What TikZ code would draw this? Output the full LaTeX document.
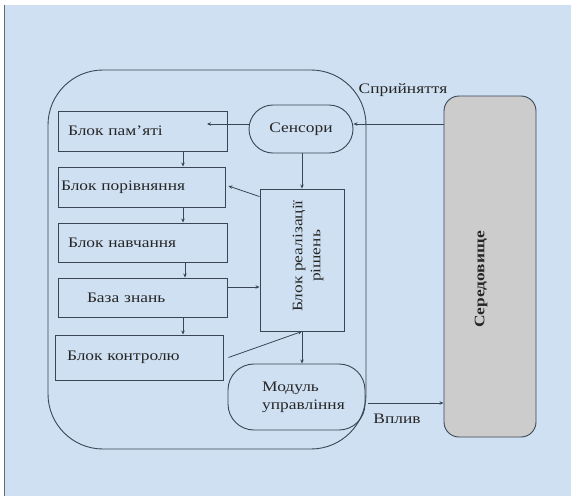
\documentclass[tikz,border=0pt]{standalone}
\usepackage{fontspec}
\setmainfont[FakeStretch=1.2]{Liberation Serif}
\usetikzlibrary{arrows.meta,calc}
\definecolor{bgblue}{HTML}{CFE0F2}
\definecolor{ln}{HTML}{3A4656}
\definecolor{envgray}{HTML}{CCCCCC}
\begin{document}
\begin{tikzpicture}[x=1pt,y=-1pt,
  every node/.style={font=\rmfamily\fontsize{14.5}{18}\selectfont, text=black!85},
  box/.style={draw=ln, line width=0.9pt, rectangle, inner ysep=0pt, minimum height=40pt, align=left},
  pill/.style={draw=ln, line width=0.9pt, rectangle, inner sep=0pt},
  arr/.style={draw=ln, line width=0.8pt, -{Stealth[length=4pt,width=3.5pt]}},
  plain/.style={draw=ln, line width=0.8pt}]
\useasboundingbox (0,0) rectangle (571,499);
\fill[white] (0,0) rectangle (571,499);
\fill[bgblue] (5,5) rectangle (571,496);
\draw[ln!80, line width=1pt] (4.5,5) -- (4.5,496);

% outer agent frame
\node[pill, rounded corners=55pt, minimum width=318pt, minimum height=379pt] (agent) at (207,259.5) {};

% environment
\node[pill, fill=envgray, rounded corners=15pt, minimum width=92pt, minimum height=341pt,
  label={[xshift=-9pt, yshift=-13pt, rotate=90, font=\rmfamily\fontsize{14.5}{18}\selectfont\bfseries]center:Середовище}] (env) at (490,266.5) {};

% sensors
\node[pill, rounded corners=24pt, minimum width=104pt, minimum height=48pt] (sens) at (301,129) {Сенсори};

% left column
\node[box, inner xsep=10pt, text width=149pt] (mem) at (142.5,131) {Блок пам’яті};
\node[box, inner xsep=3pt, text width=161pt] (cmp) at (141.5,187) {Блок порівняння};
\node[box, inner xsep=10pt, text width=149pt, minimum height=39pt] (learn) at (142.5,242.5) {Блок навчання};
\node[box, inner xsep=29pt, text width=111pt, minimum height=39pt] (kb) at (142.5,297.5) {База знань};
\node[box, inner xsep=12pt, text width=144pt, minimum height=45pt] (ctl) at (139,357.5) {Блок контролю};

% decision block
\node[pill, minimum width=84pt, minimum height=142pt,
  label={[xshift=6pt, yshift=4pt, rotate=90, align=center]center:Блок реалізації\\рішень}] (real) at (302,260) {};

% control module
\node[pill, rounded corners=26pt, minimum width=137pt, minimum height=66pt,
  label={[align=left, xshift=7pt]center:Модуль\\управління}] (mod) at (296.5,397) {};

% labels
\node (lin) at (403,90) {Сприйняття};
\node (lout) at (397,419) {Вплив};

% coordinates for vertical links
\coordinate (c1) at (183,0);
\coordinate (c2) at (185,0);
\coordinate (memtip) at (207,124);

% connectors
\draw[arr] (env.west |- 0,124) -- ([yshift=5pt]sens.east);
\draw[arr] ([yshift=5pt]sens.west) -- (memtip);
\draw[arr] (sens.south -| real.north) -- (real.north);
\draw[arr] (c1 |- mem.south) -- (c1 |- cmp.north);
\draw[arr] (c1 |- cmp.south) -- (c1 |- learn.north);
\draw[arr] (c2 |- learn.south) -- (c2 |- kb.north);
\draw[arr] (c1 |- kb.south) -- (c1 |- ctl.north);
\draw[arr] ([yshift=-8pt]real.north west) -- ([xshift=3pt,yshift=1pt]cmp.east);
\draw[arr] ([yshift=10.5pt]kb.east) -- (real.west |- 0,287);
\draw[arr] ([xshift=5pt]ctl.east) -- (real.south);
\draw[arr] (real.south) -- (real.south |- mod.north);
\draw[arr] ([xshift=3pt,yshift=-6pt]mod.east) -- (env.west |- 0,403);
\end{tikzpicture}
\end{document}
